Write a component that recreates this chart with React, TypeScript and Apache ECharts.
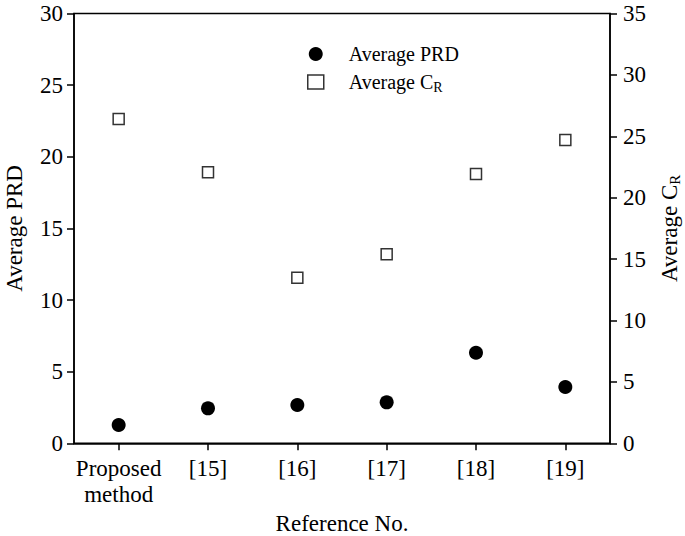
import React, { useEffect, useRef } from "react";
import * as echarts from "echarts";

const categories = ["Proposed\nmethod", "[15]", "[16]", "[17]", "[18]", "[19]"];
const prdValues = [1.28, 2.44, 2.67, 2.86, 6.32, 3.93];
const crValues = [26.4, 22.07, 13.49, 15.4, 21.93, 24.7];

const FONT = "Liberation Serif";

export default function App() {
  const ref = useRef<HTMLDivElement>(null);
  useEffect(() => {
    if (!ref.current) return;
    const chart = echarts.init(ref.current, undefined, { renderer: "svg" });
    const axisLine = { show: true, lineStyle: { color: "#000", width: 1.5 } };
    const axisTick = { show: true, inside: false, length: 7, lineStyle: { color: "#000", width: 1.5 } };
    const labelStyle = { color: "#000", fontFamily: FONT, fontSize: 23 };
    chart.setOption({
      animation: false,
      textStyle: { fontFamily: FONT },
      grid: {
        left: 74,
        right: 75,
        top: 13.5,
        bottom: 92.7,
        show: true,
        borderColor: "#000",
        borderWidth: 1.5,
        backgroundColor: "transparent",
        containLabel: false,
        outerBoundsMode: "none",
      },
      legend: {
        orient: "vertical",
        left: 302,
        top: 39,
        itemWidth: 16,
        itemHeight: 14,
        itemGap: 8,
        textStyle: {
          color: "#000",
          fontFamily: FONT,
          fontSize: 20,
          padding: [0, 0, 0, 20],
          rich: {
            a: { fontFamily: FONT, fontSize: 20, color: "#000" },
            s: { fontFamily: FONT, fontSize: 14, color: "#000", verticalAlign: "bottom", padding: [10, 0, 0, 0] },
          },
        },
        formatter: (name: string) =>
          name === "Average CR" ? "{a|Average C}{s|R}" : "{a|" + name + "}",
        data: [
          { name: "Average PRD", icon: "circle", itemStyle: { color: "#000", opacity: 1 } },
          { name: "Average CR", icon: "rect", itemStyle: { color: "#fff", borderColor: "#333", borderWidth: 1.5, opacity: 1 } },
        ],
      },
      xAxis: {
        type: "category",
        data: categories,
        boundaryGap: true,
        axisLine,
        axisTick: { ...axisTick, alignWithLabel: true },
        axisLabel: { ...labelStyle, margin: 12, lineHeight: 26, interval: 0 },
        name: "Reference No.",
        nameLocation: "middle",
        nameGap: 54,
        nameTextStyle: { ...labelStyle },
      },
      yAxis: [
        {
          type: "value",
          min: 0,
          max: 30,
          interval: 5,
          position: "left",
          axisLine,
          axisTick,
          splitLine: { show: false },
          axisLabel: { ...labelStyle, margin: 11 },
          name: "Average PRD",
          nameLocation: "middle",
          nameGap: 48,
          nameRotate: 90,
          nameTextStyle: { ...labelStyle },
        },
        {
          type: "value",
          min: 0,
          max: 35,
          interval: 5,
          position: "right",
          axisLine,
          axisTick,
          splitLine: { show: false },
          axisLabel: { ...labelStyle, margin: 13 },
          name: "{a|Average C}{s|R}",
          nameLocation: "middle",
          nameGap: 46,
          nameRotate: 90,
          nameTextStyle: {
            ...labelStyle,
            rich: {
              a: { fontFamily: FONT, fontSize: 23, color: "#000" },
              s: { fontFamily: FONT, fontSize: 15, color: "#000", verticalAlign: "bottom", padding: [11, 0, 0, 0] },
            },
          },
        },
      ],
      series: [
        {
          name: "Average PRD",
          type: "scatter",
          yAxisIndex: 0,
          data: prdValues,
          symbol: "circle",
          symbolSize: 14,
          itemStyle: { color: "#000", opacity: 1 },
        },
        {
          name: "Average CR",
          type: "scatter",
          yAxisIndex: 1,
          data: crValues,
          symbol: "rect",
          symbolSize: 11,
          itemStyle: { color: "#fff", borderColor: "#333", borderWidth: 1.5, opacity: 1 },
        },
      ],
    });
    return () => chart.dispose();
  }, []);
  return (
    <div
      ref={ref}
      style={{ position: "absolute", left: 0, top: 0, width: 685, height: 536 }}
    />
  );
}
